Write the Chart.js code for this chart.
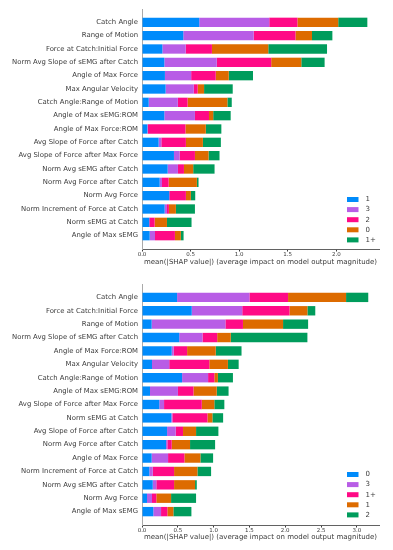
<!DOCTYPE html>
<html>
<head>
<meta charset="utf-8">
<script src="https://cdn.jsdelivr.net/npm/chart.js@4.4.1/dist/chart.umd.min.js"></script>
<style>
  body { margin: 0; background: #fff; }
  .box { position: absolute; left: 0; width: 393px; height: 275px; }
</style>
</head>
<body>
<div class="box" style="top:0"><canvas id="topChart" width="393" height="275"></canvas></div>
<div class="box" style="top:275px"><canvas id="bottomChart" width="393" height="275"></canvas></div>
<script>
// --- data: upper plot ---
const topFeatures = ['Catch Angle', 'Range of Motion', 'Force at Catch:Initial Force',
  'Norm Avg Slope of sEMG after Catch', 'Angle of Max Force', 'Max Angular Velocity',
  'Catch Angle:Range of Motion', 'Angle of Max sEMG:ROM', 'Angle of Max Force:ROM',
  'Avg Slope of Force after Catch', 'Avg Slope of Force after Max Force',
  'Norm Avg sEMG after Catch', 'Norm Avg Force after Catch', 'Norm Avg Force',
  'Norm Increment of Force at Catch', 'Norm sEMG at Catch', 'Angle of Max sEMG'];
const topClasses = ['1', '3', '2', '0', '1+'];
const topVals1  = [0.59, 0.425, 0.21, 0.23, 0.236, 0.243, 0.069, 0.23, 0.055, 0.171, 0.329, 0.264, 0.182, 0.281, 0.233, 0.075, 0.079];
const topVals3  = [0.72, 0.725, 0.24, 0.54, 0.27, 0.29, 0.30, 0.315, 0.005, 0.028, 0.058, 0.106, 0.024, 0.0, 0.024, 0.0, 0.055];
const topVals2  = [0.29, 0.43, 0.27, 0.56, 0.253, 0.04, 0.10, 0.145, 0.387, 0.253, 0.158, 0.062, 0.068, 0.171, 0.02, 0.055, 0.205];
const topVals0  = [0.42, 0.17, 0.58, 0.31, 0.134, 0.066, 0.41, 0.043, 0.21, 0.175, 0.14, 0.095, 0.291, 0.051, 0.072, 0.127, 0.061];
const topVals1p = [0.30, 0.21, 0.605, 0.24, 0.25, 0.295, 0.045, 0.18, 0.16, 0.185, 0.113, 0.22, 0.017, 0.045, 0.196, 0.253, 0.028];

// --- data: lower plot ---
const botFeatures = ['Catch Angle', 'Force at Catch:Initial Force', 'Range of Motion',
  'Norm Avg Slope of sEMG after Catch', 'Angle of Max Force:ROM', 'Max Angular Velocity',
  'Catch Angle:Range of Motion', 'Angle of Max sEMG:ROM', 'Avg Slope of Force after Max Force',
  'Norm sEMG at Catch', 'Avg Slope of Force after Catch', 'Norm Avg Force after Catch',
  'Angle of Max Force', 'Norm Increment of Force at Catch', 'Norm Avg sEMG after Catch',
  'Norm Avg Force', 'Angle of Max sEMG'];
const botClasses = ['0', '3', '1+', '1', '2'];
const botVals0  = [0.49, 0.695, 0.135, 0.52, 0.415, 0.14, 0.56, 0.112, 0.242, 0.41, 0.35, 0.336, 0.135, 0.103, 0.15, 0.07, 0.158];
const botVals3  = [1.01, 0.705, 1.03, 0.325, 0.028, 0.24, 0.363, 0.39, 0.066, 0.014, 0.121, 0.018, 0.229, 0.047, 0.05, 0.07, 0.108];
const botVals1p = [0.54, 0.66, 0.245, 0.205, 0.187, 0.56, 0.087, 0.217, 0.527, 0.49, 0.102, 0.061, 0.228, 0.298, 0.248, 0.06, 0.088];
const botVals1  = [0.81, 0.25, 0.56, 0.19, 0.40, 0.26, 0.05, 0.325, 0.175, 0.069, 0.182, 0.256, 0.224, 0.326, 0.293, 0.206, 0.084];
const botVals2  = [0.31, 0.11, 0.35, 1.07, 0.36, 0.15, 0.21, 0.165, 0.14, 0.15, 0.312, 0.35, 0.177, 0.191, 0.024, 0.349, 0.252];

const xTitle = 'mean(|SHAP value|) (average impact on model output magnitude)';

// shap colours, left to right in each bar
const segColors = ['#008bfb', '#b85de6', '#ff0a86', '#dd6b00', '#009c5c'];
const textColor = '#3a3a3a';
const fontFamily = '"DejaVu Sans", sans-serif';

// legend drawn in the lower right corner of the plot area
const cornerLegend = {
    id: 'cornerLegend',
    afterDraw(chart, args, opts) {
        const ctx = chart.ctx;
        ctx.save();
        ctx.font = '7px ' + fontFamily;
        ctx.textBaseline = 'middle';
        chart.data.datasets.forEach((ds, i) => {
            const y = opts.y + i * opts.step;
            ctx.fillStyle = ds.backgroundColor;
            ctx.fillRect(opts.x, y - 2.5, 11.5, 5);
            ctx.fillStyle = textColor;
            ctx.fillText(ds.label, opts.x + 18.5, y);
        });
        ctx.restore();
    }
};

function makeChart(canvasId, features, classes, series, xMax, axisHeight) {
    // one empty row above and below, like the matplotlib y limits
    const labels = ['', ...features, ''];
    const datasets = series.map((vals, i) => ({
        label: classes[i],
        data: [null, ...vals, null],
        backgroundColor: segColors[i],
        borderWidth: 0,
        barPercentage: 0.7,
        categoryPercentage: 1.0
    }));

    return new Chart(document.getElementById(canvasId).getContext('2d'), {
        type: 'bar',
        data: { labels: labels, datasets: datasets },
        plugins: [cornerLegend],
        options: {
            indexAxis: 'y',
            responsive: false,
            animation: false,
            devicePixelRatio: 1,
            layout: { padding: { top: 9, right: 14, left: 0, bottom: 0 } },
            scales: {
                x: {
                    stacked: true,
                    min: 0,
                    max: xMax,
                    grid: { display: true, drawOnChartArea: false, drawTicks: true, tickLength: 2.5, color: textColor },
                    border: { display: true, color: textColor, width: 0.8 },
                    ticks: {
                        stepSize: 0.5,
                        includeBounds: false,
                        maxRotation: 0,
                        padding: 0,
                        color: textColor,
                        font: { family: fontFamily, size: 5.5 },
                        callback: (v) => v.toFixed(1)
                    },
                    title: {
                        display: true,
                        text: xTitle,
                        color: textColor,
                        font: { family: fontFamily, size: 7 },
                        padding: { top: 0, bottom: 9 }
                    },
                    afterFit: (scale) => { scale.height = axisHeight; }
                },
                y: {
                    type: 'category',
                    stacked: true,
                    offset: false,
                    grid: { display: false, drawTicks: false },
                    border: { display: true, color: '#aaaaaa', width: 1 },
                    ticks: {
                        autoSkip: false,
                        padding: 4,
                        color: textColor,
                        font: { family: fontFamily, size: 6.9 }
                    },
                    afterFit: (scale) => { scale.width = 142; }
                }
            },
            plugins: {
                legend: { display: false },
                tooltip: { enabled: false },
                cornerLegend: { x: 347, y: 199.5, step: 10.1 }
            }
        }
    });
}

makeChart('topChart', topFeatures, topClasses,
    [topVals1, topVals3, topVals2, topVals0, topVals1p], 2.44, 26);
makeChart('bottomChart', botFeatures, botClasses,
    [botVals0, botVals3, botVals1p, botVals1, botVals2], 3.31, 25);
</script>
</body>
</html>
